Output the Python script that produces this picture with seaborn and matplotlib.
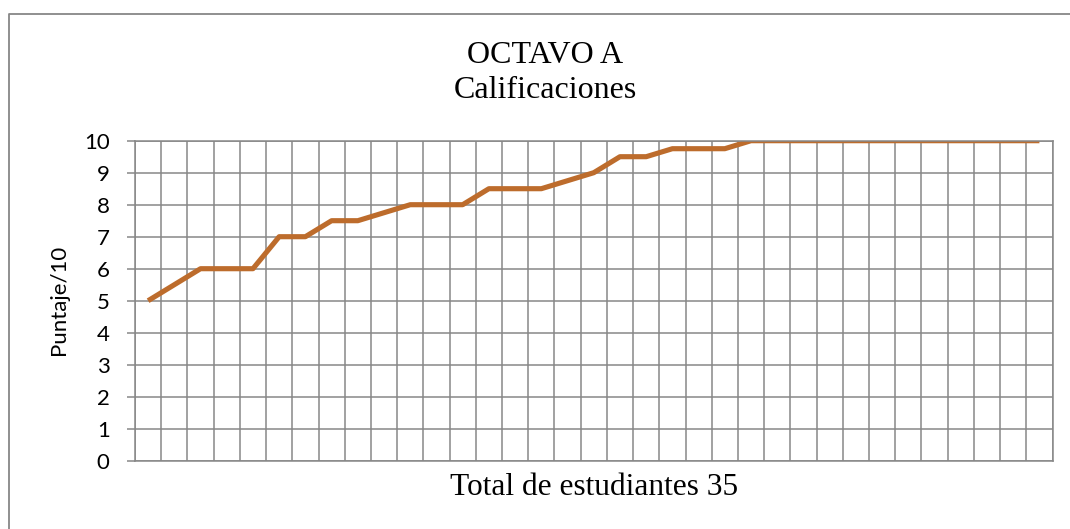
import numpy as np
import pandas as pd
import matplotlib
matplotlib.use("Agg")
import matplotlib.pyplot as plt
from matplotlib.lines import Line2D
import seaborn as sns

# ---- data ----
students = list(range(1, 36))
scores = [5, 5.5, 6, 6, 6, 7, 7, 7.5, 7.5, 7.75, 8, 8, 8, 8.5, 8.5, 8.5, 8.75, 9,
          9.5, 9.5, 9.75, 9.75, 9.75, 10, 10, 10, 10, 10, 10, 10, 10, 10, 10, 10, 10]
y_ticks = [0, 1, 2, 3, 4, 5, 6, 7, 8, 9, 10]
title_line1 = "OCTAVO A"
title_line2 = "Calificaciones"
x_label = "Total de estudiantes 35"
y_label = "Puntaje/10"

df = pd.DataFrame({"idx": np.arange(len(scores)), "score": scores})

sns.set_theme(style="white")
plt.rcParams["font.family"] = ["Lato", "DejaVu Sans"]

GRID = "#878787"
LINE = "#BD6C2C"
SERIF = ["Liberation Serif", "DejaVu Serif"]
W, H = 1070, 529

fig = plt.figure(figsize=(W / 100, H / 100), dpi=100)
fig.patch.set_facecolor("white")
ax = fig.add_axes([135 / W, 1 - 460.7 / H, (1052.5 - 135) / W, (460.7 - 140.7) / H])

sns.lineplot(data=df, x="idx", y="score", ax=ax, color=LINE, linewidth=3.7,
             solid_capstyle="butt", solid_joinstyle="round", legend=False)

n = len(scores)
ax.set_xlim(-0.5, n - 0.5)
ax.set_ylim(0, 10)
ax.set_xticks(np.arange(-0.5, n, 1))
ax.set_xticklabels([])
ax.set_yticks(y_ticks)
ax.set_yticklabels([str(v) for v in y_ticks])
ax.grid(True, which="major", axis="both", color=GRID, linewidth=1.1)
ax.set_axisbelow(True)
ax.tick_params(axis="x", length=0)
ax.tick_params(axis="y", length=5.8, width=1.1, color=GRID, pad=12.5,
               labelsize=16, labelcolor="black", left=True)
for s in ax.spines.values():
    s.set_color(GRID)
    s.set_linewidth(1.1)

ax.set_xlabel(x_label, fontsize=22.6, family=SERIF, color="black")
ax.xaxis.label.set_va("baseline")
ax.xaxis.set_label_coords(0.5, (460.7 - 495) / 320)

ax.set_ylabel(y_label, fontsize=16, color="black")
ax.yaxis.label.set_va("center")
ax.yaxis.set_label_coords((59 - 135) / 917.5, (460.7 - 300) / 320)

fig.text(545 / W, 1 - 63.3 / H, title_line1, ha="center", va="baseline", fontsize=23,
         family=SERIF, color="black")
fig.text(545 / W, 1 - 98 / H, title_line2, ha="center", va="baseline", fontsize=23,
         family=SERIF, color="black")

# chart-area border (top and left visible)
fig.add_artist(Line2D([8.5 / W, 8.5 / W, 1.0], [0.0, 1 - 13.5 / H, 1 - 13.5 / H],
                      transform=fig.transFigure, color=GRID, linewidth=1.3))

fig.savefig("out.png", dpi=100)
